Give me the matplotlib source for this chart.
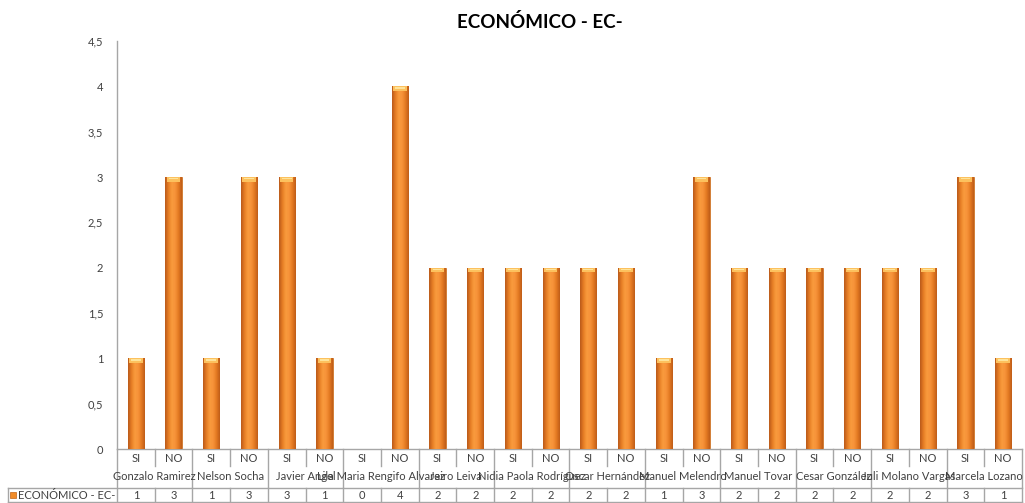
import numpy as np
import matplotlib
matplotlib.use("Agg")
import matplotlib.pyplot as plt
from matplotlib.colors import LinearSegmentedColormap
from matplotlib.patches import Rectangle

plt.rcParams["font.family"] = ["Lato", "DejaVu Sans"]

# chart data
title = "ECONÓMICO - EC-"
series_name = "ECONÓMICO - EC-"
names = ["Gonzalo Ramirez", "Nelson Socha", "Javier Angel", "Lila Maria Rengifo Alvarez",
         "Jairo Leiva", "Nidia Paola Rodríguez", "Oscar Hernández", "Manuel Melendro",
         "Manuel Tovar", "Cesar González", "Juli Molano Vargas", "Marcela Lozano"]
answers = ["SI", "NO", "SI", "NO", "SI", "NO", "SI", "NO", "SI", "NO", "SI", "NO",
           "SI", "NO", "SI", "NO", "SI", "NO", "SI", "NO", "SI", "NO", "SI", "NO"]
values = [1, 3, 1, 3, 3, 1, 0, 4, 2, 2, 2, 2, 2, 2, 1, 3, 2, 2, 2, 2, 2, 2, 3, 1]
yticks = [0, 0.5, 1, 1.5, 2, 2.5, 3, 3.5, 4, 4.5]

W, H = 1025, 503
fig = plt.figure(figsize=(W / 100, H / 100), dpi=100)

# plot area in pixels
x0, x1, ytop, ybot = 117, 1022, 41, 449
ax = fig.add_axes([x0 / W, (H - ybot) / H, (x1 - x0) / W, (ybot - ytop) / H])

txt = "#404040"
grid = "#A6A6A6"
n = len(values)
xs = np.arange(n)
bw = 0.43

bars = ax.bar(xs, values, width=bw, color="#F28C28", edgecolor="#C46416", linewidth=0.5, zorder=2)

# cylinder-like shading across each bar
shade = LinearSegmentedColormap.from_list(
    "shade", ["#B9591A", "#E67D24", "#F99B3D", "#F7933A", "#E47A22", "#BE5C18"])
grad = np.linspace(0, 1, 64).reshape(1, -1)
cap = 0.05
for b, v in zip(bars, values):
    if v <= 0:
        continue
    xl = b.get_x()
    im = ax.imshow(grad, cmap=shade, extent=[xl, xl + bw, 0, v], aspect="auto", zorder=3,
                   interpolation="bicubic")
    im.set_clip_path(b)
    ax.add_patch(Rectangle((xl + bw * 0.08, v - cap), bw * 0.84, cap,
                           facecolor="#FCC15E", edgecolor="none", zorder=4))
    ax.add_patch(Rectangle((xl + bw * 0.2, v - cap * 0.55), bw * 0.6, cap * 0.35,
                           facecolor="#FEE39A", edgecolor="none", zorder=5))

ax.set_xlim(-0.5, n - 0.5)
ax.set_ylim(0, 4.5)
ax.set_yticks(yticks)
ax.set_yticklabels([f"{t:g}".replace(".", ",") for t in yticks], fontsize=8, color=txt)
ax.tick_params(axis="y", length=0, pad=10)
ax.set_xticks([])
for s in ["top", "right"]:
    ax.spines[s].set_visible(False)
ax.spines["left"].set_color(grid)
ax.spines["bottom"].set_color(grid)
ax.spines["left"].set_linewidth(1)
ax.spines["bottom"].set_linewidth(1)

fig.text(540 / W, 1 - 22 / H, title, ha="center", va="center", fontsize=13.5,
         fontweight="bold", color="black")

# data table under the axis, positions given in pixel rows
tr = ax.get_xaxis_transform()


def ya(py):
    return (ybot - py) / (ybot - ytop)


r_ans, r_name, r_data_top, r_data_bot = 466, 487, 488, 502

# left border of category rows
ax.plot([-0.5, -0.5], [ya(ybot), ya(r_data_bot)], transform=tr, color=grid, lw=1, clip_on=False)
for i in range(n):
    ax.text(i, ya(458), answers[i], transform=tr, ha="center", va="center",
            fontsize=8, color=txt, clip_on=False)
    xb = i + 0.5
    if i % 2 == 0:
        ax.plot([xb, xb], [ya(ybot), ya(r_ans)], transform=tr, color=grid, lw=1, clip_on=False)
    else:
        ax.plot([xb, xb], [ya(ybot), ya(r_name)], transform=tr, color=grid, lw=1, clip_on=False)

for k, nm in enumerate(names):
    ax.text(2 * k + 0.5, ya(477), nm, transform=tr, ha="center", va="center",
            fontsize=8, color=txt, clip_on=False)

# value row with legend key
ax.plot([-0.5 - 109 / 37.7, n - 0.5], [ya(r_data_top)] * 2, transform=tr, color=grid, lw=1, clip_on=False)
ax.plot([-0.5 - 109 / 37.7, n - 0.5], [ya(r_data_bot)] * 2, transform=tr, color=grid, lw=1, clip_on=False)
ax.plot([-0.5 - 109 / 37.7] * 2, [ya(r_data_top), ya(r_data_bot)], transform=tr, color=grid, lw=1, clip_on=False)
for i in range(n):
    ax.plot([i + 0.5, i + 0.5], [ya(r_data_top), ya(r_data_bot)], transform=tr, color=grid, lw=1, clip_on=False)
    ax.text(i, ya(495.5), str(values[i]), transform=tr, ha="center", va="center",
            fontsize=8, color=txt, clip_on=False)

fig.patches.append(Rectangle((10 / W, 1 - 498 / H), 6 / W, 6 / H, transform=fig.transFigure,
                             facecolor="#F28C28", edgecolor="#C46416", lw=0.5))
fig.text(18 / W, 1 - 495.5 / H, series_name, ha="left", va="center", fontsize=8, color=txt)

fig.savefig("out.png", dpi=100)
